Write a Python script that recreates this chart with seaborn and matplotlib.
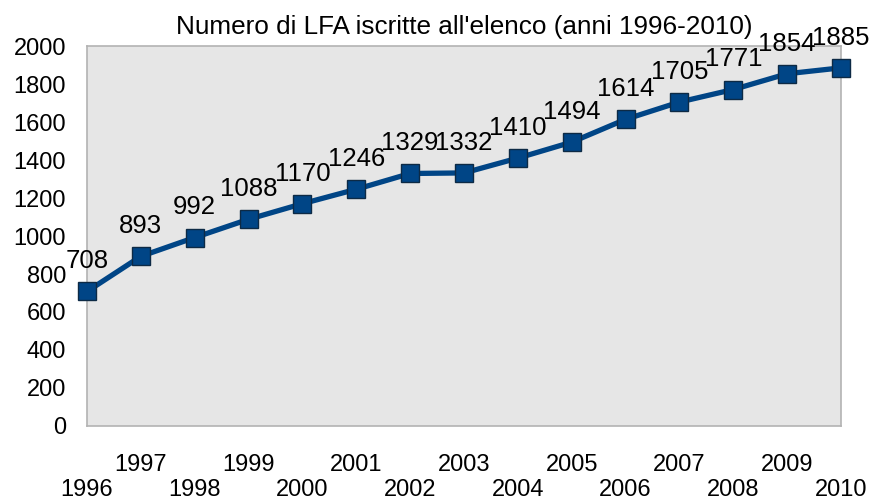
import matplotlib
matplotlib.use("Agg")
import matplotlib.pyplot as plt
import seaborn as sns
import pandas as pd

# Numero di LFA iscritte all'elenco, 1996-2010
anni = [1996, 1997, 1998, 1999, 2000, 2001, 2002, 2003,
        2004, 2005, 2006, 2007, 2008, 2009, 2010]
iscritte = [708, 893, 992, 1088, 1170, 1246, 1329, 1332,
            1410, 1494, 1614, 1705, 1771, 1854, 1885]
y_ticks = list(range(0, 2001, 200))

df = pd.DataFrame({"anno": anni, "lfa": iscritte})

sns.set_style("white")
plt.rcParams["font.family"] = ["Liberation Sans", "DejaVu Sans"]

fig = plt.figure(figsize=(8.75, 5.01), dpi=100)
ax = fig.add_axes([87 / 875, 1 - 426 / 501, (841 - 87) / 875, (426 - 46) / 501])
ax.set_facecolor("#e6e6e6")

sns.lineplot(data=df, x="anno", y="lfa", ax=ax, color="#004586", linewidth=3.8,
             marker="s", markersize=13, markeredgecolor="#0d2a45",
             markeredgewidth=1.0, markerfacecolor="#004586", clip_on=False,
             zorder=5)

for a, v in zip(anni, iscritte):
    ax.annotate(str(v), (a, v), xytext=(0, 13), textcoords="offset points",
                ha="center", va="bottom", fontsize=18.5, color="black")

ax.set_xlim(anni[0], anni[-1])
ax.set_ylim(0, 2000)
ax.set_yticks(y_ticks)
ax.set_xticks(anni)
ax.set_xticklabels([str(a) if i % 2 else "\n" + str(a) for i, a in enumerate(anni)])
ax.tick_params(axis="both", labelsize=17, length=7, width=1, color="#b3b3b3",
               labelcolor="black", direction="out")
ax.tick_params(axis="x", pad=13)
ax.tick_params(axis="y", pad=8)
ax.set_xlabel("")
ax.set_ylabel("")
for side in ax.spines.values():
    side.set_color("#b3b3b3")
    side.set_linewidth(1.2)
    side.set_visible(True)

ax.set_title("Numero di LFA iscritte all'elenco (anni 1996-2010)", fontsize=18.8,
             pad=9, color="black")

plt.savefig("out.png", dpi=100)
plt.close()
